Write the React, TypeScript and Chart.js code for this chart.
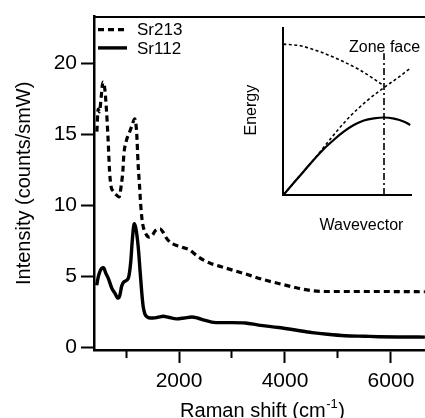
import React, { useEffect, useRef } from 'react';
import { Chart, registerables } from 'chart.js';

Chart.register(...registerables);

const FONT = "'Liberation Sans', Arial, Helvetica, sans-serif";

// ---- main spectra ----
const seriesLabels = ['Sr213', 'Sr112'];

const sr213X = [450, 475, 500, 530, 565, 600, 630, 660, 690, 720, 760, 800, 870, 910, 940, 960, 1010, 1060, 1110, 1165, 1200, 1230, 1255, 1280, 1310, 1360, 1440, 1500, 1550, 1640, 1700, 1760, 1830, 1930, 2050, 2200, 2350, 2480, 2600, 2900, 3200, 3600, 3950, 4250, 4500, 4750, 5200, 5800, 6640];
const sr213Y = [15.2, 16.8, 16.6, 17.6, 18.7, 18.2, 16.8, 14.8, 12.4, 11.3, 11.0, 10.8, 10.6, 11.4, 12.4, 13.6, 14.6, 15.1, 15.6, 16.1, 15.2, 12.8, 11.4, 9.9, 8.8, 8.1, 7.75, 7.9, 8.2, 8.35, 8.1, 7.7, 7.4, 7.2, 7.05, 6.85, 6.4, 6.1, 5.9, 5.55, 5.22, 4.75, 4.42, 4.15, 3.98, 3.92, 3.92, 3.92, 3.9];

const sr112X = [447, 480, 540, 575, 620, 666, 730, 790, 850, 880, 919, 960, 1043, 1089, 1120, 1155, 1185, 1232, 1265, 1296, 1326, 1360, 1390, 1450, 1515, 1600, 1704, 1800, 1957, 2100, 2240, 2350, 2459, 2617, 2800, 3000, 3251, 3500, 3881, 4200, 4510, 4800, 5138, 5500, 5768, 6200, 6640];
const sr112Y = [4.36, 5.0, 5.55, 5.6, 5.2, 4.85, 4.17, 3.8, 3.45, 3.6, 4.3, 4.6, 4.85, 6.0, 7.6, 8.7, 8.4, 7.0, 5.4, 3.9, 2.8, 2.3, 2.15, 2.05, 2.05, 2.1, 2.17, 2.1, 1.99, 2.05, 2.12, 2.05, 1.92, 1.76, 1.72, 1.72, 1.7, 1.55, 1.38, 1.2, 1.02, 0.9, 0.8, 0.76, 0.73, 0.71, 0.7];

const xMajorTicks = [2000, 4000, 6000];
const xMinorTicks = [1000, 3000, 5000];
const yTicks = [0, 5, 10, 15, 20];
const xRange = [396, 6642];
const yRange = [-0.21, 23.32];

const xTitleMain = 'Raman shift (cm';
const xTitleSup = '-1';
const xTitleEnd = ')';
const yTitle = 'Intensity (counts/smW)';

// ---- inset dispersion sketch ----
const acousticK = [0, 0.1, 0.2, 0.3, 0.4, 0.5, 0.6, 0.7, 0.8, 0.9, 1.0, 1.1, 1.2, 1.26];
const acousticE = [0, 0.07, 0.14, 0.21, 0.275, 0.33, 0.38, 0.42, 0.447, 0.46, 0.465, 0.458, 0.44, 0.42];
const risingK = [0, 0.1, 0.2, 0.3, 0.4, 0.5, 0.66, 0.83, 1.0, 1.13, 1.26];
const risingE = [0, 0.07, 0.14, 0.21, 0.285, 0.36, 0.47, 0.565, 0.645, 0.7, 0.76];
const foldedK = [0, 0.17, 0.36, 0.56, 0.76, 0.89, 1.0];
const foldedE = [0.905, 0.895, 0.86, 0.81, 0.75, 0.7, 0.655];
const zoneFaceK = [1, 1];
const zoneFaceE = [0, 0.85];
const insetXRange = [0, 1.275];
const insetYRange = [0, 1];
const insetZoneLabel = 'Zone face';
const insetYLabel = 'Energy';
const insetXLabel = 'Wavevector';

const pts = (xs: number[], ys: number[]) => xs.map((x, i) => ({ x, y: ys[i] }));

const legendPlugin = {
  id: 'customLegend',
  afterDraw(chart: any) {
    const { ctx, chartArea } = chart;
    chart.data.datasets.forEach((ds: any, i: number) => {
      const y = chartArea.top + 13 + i * 18.3;
      ctx.save();
      ctx.strokeStyle = ds.borderColor;
      ctx.lineWidth = ds.borderWidth;
      ctx.setLineDash(ds.borderDash || []);
      ctx.beginPath();
      ctx.moveTo(chartArea.left + 4, y);
      ctx.lineTo(chartArea.left + 33, y);
      ctx.stroke();
      ctx.setLineDash([]);
      ctx.fillStyle = '#000';
      ctx.font = `17px ${FONT}`;
      ctx.textAlign = 'left';
      ctx.textBaseline = 'alphabetic';
      ctx.fillText(ds.label, chartArea.left + 43, y + 5.8);
      ctx.restore();
    });
  },
};

const xTitlePlugin = {
  id: 'xTitleSup',
  afterDraw(chart: any) {
    const { ctx, chartArea } = chart;
    ctx.save();
    ctx.fillStyle = '#000';
    ctx.textBaseline = 'alphabetic';
    ctx.textAlign = 'left';
    ctx.font = `20px ${FONT}`;
    const w1 = ctx.measureText(xTitleMain).width;
    const w3 = ctx.measureText(xTitleEnd).width;
    ctx.font = `13px ${FONT}`;
    const w2 = ctx.measureText(xTitleSup).width;
    const total = w1 + w2 + w3 + 1;
    let x = (chartArea.left + chartArea.right) / 2 + 3 - total / 2;
    const base = chart.height - 1.5;
    ctx.font = `20px ${FONT}`;
    ctx.fillText(xTitleMain, x, base);
    x += w1 + 0.5;
    ctx.font = `13px ${FONT}`;
    ctx.fillText(xTitleSup, x, base - 8.5);
    x += w2 + 0.5;
    ctx.font = `20px ${FONT}`;
    ctx.fillText(xTitleEnd, x, base);
    ctx.restore();
  },
};

const insetTextPlugin = {
  id: 'insetText',
  afterDraw(chart: any) {
    const { ctx, chartArea, scales } = chart;
    const xz = scales.x.getPixelForValue(1);
    ctx.save();
    ctx.fillStyle = '#000';
    ctx.font = `16px ${FONT}`;
    ctx.textBaseline = 'alphabetic';
    ctx.textAlign = 'left';
    ctx.fillText(insetZoneLabel, xz - 35, chartArea.top + 24);
    ctx.textAlign = 'center';
    ctx.fillText(insetXLabel, (chartArea.left + chartArea.right) / 2 + 14, chartArea.bottom + 35);
    ctx.translate(chartArea.left - 32, (chartArea.top + chartArea.bottom) / 2 - 1.5);
    ctx.rotate(-Math.PI / 2);
    ctx.textBaseline = 'middle';
    ctx.fillText(insetYLabel, 0, 0);
    ctx.restore();
  },
};

const tickGrid = (len: number) => ({
  display: true,
  drawOnChartArea: false,
  drawTicks: true,
  tickLength: len,
  tickWidth: 2,
  tickColor: '#000',
  color: '#000',
});

const plainLabel = (v: any) => String(v);

export default function App() {
  const mainRef = useRef<HTMLCanvasElement | null>(null);
  const insetRef = useRef<HTMLCanvasElement | null>(null);

  useEffect(() => {
    if (!mainRef.current || !insetRef.current) return;
    const main = new Chart(mainRef.current, {
      type: 'line',
      data: {
        datasets: [
          {
            label: seriesLabels[0],
            data: pts(sr213X, sr213Y),
            borderColor: '#000',
            borderWidth: 3.2,
            borderDash: [6, 4],
            pointRadius: 0,
            fill: false,
            cubicInterpolationMode: 'monotone',
          },
          {
            label: seriesLabels[1],
            data: pts(sr112X, sr112Y),
            borderColor: '#000',
            borderWidth: 3.4,
            pointRadius: 0,
            fill: false,
            cubicInterpolationMode: 'monotone',
          },
        ],
      },
      options: {
        responsive: false,
        animation: false,
        layout: { padding: { top: 10, left: 0, right: 0, bottom: 0 } },
        plugins: { legend: { display: false }, tooltip: { enabled: false } },
        scales: {
          x: {
            type: 'linear',
            position: 'bottom',
            weight: 1,
            min: xRange[0],
            max: xRange[1],
            afterBuildTicks: (s: any) => { s.ticks = xMajorTicks.map((v) => ({ value: v })); },
            afterFit: (s: any) => { s.height = 68; },
            ticks: { color: '#000', font: { family: FONT, size: 21 }, padding: 6, maxRotation: 0, autoSkip: false, callback: plainLabel },
            grid: tickGrid(13),
            border: { display: true, width: 2.5, color: '#000' },
          },
          xMinor: {
            type: 'linear',
            axis: 'x',
            position: 'bottom',
            weight: 0,
            min: xRange[0],
            max: xRange[1],
            afterBuildTicks: (s: any) => { s.ticks = xMinorTicks.map((v) => ({ value: v })); },
            afterFit: (s: any) => { s.height = 0; },
            ticks: { display: false },
            grid: tickGrid(8),
            border: { display: false },
          },
          xTop: {
            type: 'linear',
            axis: 'x',
            position: 'top',
            min: xRange[0],
            max: xRange[1],
            afterFit: (s: any) => { s.height = 0; },
            ticks: { display: false },
            grid: { display: false, drawTicks: false },
            border: { display: true, width: 2, color: '#000' },
          },
          y: {
            type: 'linear',
            position: 'left',
            min: yRange[0],
            max: yRange[1],
            afterBuildTicks: (s: any) => { s.ticks = yTicks.map((v) => ({ value: v })); },
            afterFit: (s: any) => { s.width = 94; },
            ticks: { color: '#000', font: { family: FONT, size: 21 }, padding: 4, callback: plainLabel },
            grid: tickGrid(13),
            border: { display: true, width: 2.5, color: '#000' },
            title: {
              display: true,
              text: yTitle,
              color: '#000',
              font: { family: FONT, size: 20 },
              padding: { top: 12, bottom: 0 },
            },
          },
        },
      } as any,
      plugins: [legendPlugin, xTitlePlugin],
    });

    const dotted = { borderColor: '#000', borderWidth: 1.6, borderDash: [3, 2.5], pointRadius: 0, fill: false, clip: false, cubicInterpolationMode: 'monotone' };
    const inset = new Chart(insetRef.current, {
      type: 'line',
      data: {
        datasets: [
          { ...dotted, label: 'folded', data: pts(foldedK, foldedE) },
          { ...dotted, label: 'rising', data: pts(risingK, risingE) },
          {
            label: 'acoustic',
            data: pts(acousticK, acousticE),
            borderColor: '#000',
            borderWidth: 2.2,
            pointRadius: 0,
            fill: false,
            clip: false,
            cubicInterpolationMode: 'monotone',
          },
          {
            label: 'zone face',
            data: pts(zoneFaceK, zoneFaceE),
            borderColor: '#000',
            borderWidth: 1.6,
            borderDash: [7, 3, 2, 3],
            pointRadius: 0,
            fill: false,
            clip: false,
          },
        ],
      },
      options: {
        responsive: false,
        animation: false,
        layout: { padding: { left: 47.3, top: 8.3, right: 13.3, bottom: 45 } },
        plugins: { legend: { display: false }, tooltip: { enabled: false } },
        scales: {
          x: {
            type: 'linear',
            min: insetXRange[0],
            max: insetXRange[1],
            ticks: { display: false },
            grid: { display: false, drawTicks: false },
            border: { display: true, width: 2, color: '#000' },
          },
          y: {
            type: 'linear',
            min: insetYRange[0],
            max: insetYRange[1],
            ticks: { display: false },
            grid: { display: false, drawTicks: false },
            border: { display: true, width: 2, color: '#000' },
          },
        },
      } as any,
      plugins: [insetTextPlugin],
    });

    return () => {
      main.destroy();
      inset.destroy();
    };
  }, []);

  return (
    <div style={{ position: 'fixed', left: 0, top: 0, width: 425, height: 418, background: '#fff', overflow: 'hidden' }}>
      <canvas ref={mainRef} width={425} height={418} style={{ position: 'absolute', left: 0, top: 0, width: 425, height: 418 }} />
      <canvas ref={insetRef} width={189} height={220} style={{ position: 'absolute', left: 236, top: 20, width: 189, height: 220 }} />
    </div>
  );
}
